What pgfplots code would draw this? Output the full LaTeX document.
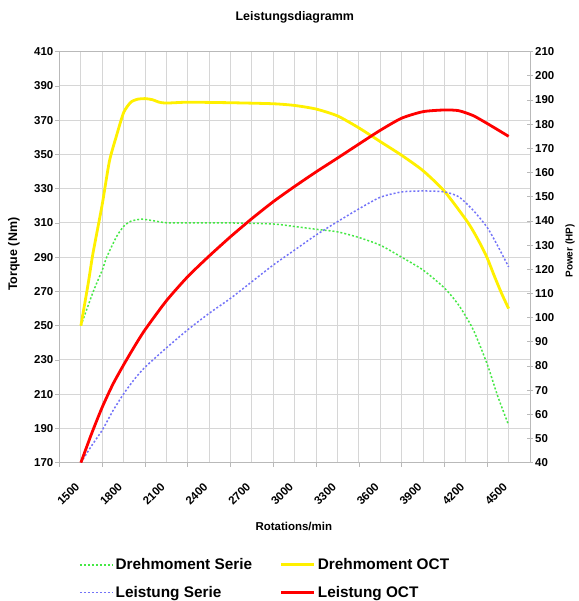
\documentclass[border=0pt]{standalone}
\usepackage{pgfplots}
\pgfplotsset{compat=1.18}
\usepackage{fontspec}
\setmainfont{Liberation Sans}
\definecolor{gridgray}{RGB}{214,214,214}
\definecolor{axisgray}{RGB}{185,185,185}
\definecolor{serieG}{RGB}{70,232,70}
\definecolor{serieB}{RGB}{115,115,248}
\definecolor{octY}{RGB}{255,240,0}
\definecolor{octR}{RGB}{255,0,0}

\pgfplotstableread{
rpm val
1650 250
1737 270
1800 282.5
1831 290
1900 302
1950 308
2000 311
2075 312.2
2150 311.4
2250 310.1
2400 310
2700 310
3000 309.4
3150 307.9
3300 306.3
3450 304.8
3600 301.5
3750 297
3900 290
4050 282.5
4200 272
4300 262
4400 248
4500 227.5
4575 208.5
4650 192
}\drehSerie

\pgfplotstableread{
rpm val
1650 250
1700 274
1730 290
1750 299
1800 321
1850 346
1900 361
1950 374.5
2000 380.5
2050 382.3
2100 382.6
2150 382
2200 380.5
2250 380
2400 380.5
2700 380.2
3000 379.6
3150 378.6
3300 376.5
3450 372.5
3600 365.5
3750 357.5
3900 349.5
4050 340.5
4200 328.5
4350 312
4400 305.5
4450 298
4500 289.5
4550 279
4600 269
4650 260
}\drehOCT

\pgfplotstableread{
rpm val
1650 40
1725 47
1800 53.5
1875 61.5
1950 68.5
2025 74.5
2100 79.5
2250 87.5
2400 95
2550 101.8
2700 108
2850 114.9
3000 121.8
3150 128
3300 134.2
3450 139.7
3600 145
3750 149.8
3900 152
4050 152.4
4200 152
4300 150
4400 144.5
4500 137.3
4575 129.5
4650 121
}\leistSerie

\pgfplotstableread{
rpm val
1650 40
1725 52
1800 63
1875 72.5
1950 80.5
2025 88
2100 95
2250 107
2400 117
2550 125.5
2700 133.5
2850 141
3000 148
3150 154.3
3300 160.3
3450 166
3600 171.8
3750 177.5
3900 182.5
4050 185.2
4200 185.9
4300 185.6
4400 183.6
4500 180.3
4650 175
}\leistOCT

\pgfplotsset{
  common/.style={
    scale only axis, width=470.5bp, height=411bp,
    xmin=1500, xmax=4800,
    /pgf/number format/assume math mode=true,
    /pgf/number format/1000 sep={},
    ticklabel style={font=\fontsize{11.5}{13}\selectfont\bfseries},
    label style={font=\fontsize{11.5}{13}\selectfont\bfseries},
    axis line style={axisgray, line width=1bp},
    tick style={axisgray, line width=0.8bp},
  },
}

\begin{document}
\begin{tikzpicture}
\begin{axis}[common, name=ax,
  ymin=170, ymax=410, ytick={170,190,...,410},
  xtick={1500,1800,...,4500}, minor xtick={1650,1950,...,4650},
  xmajorgrids, xminorgrids, ymajorgrids,
  major grid style={gridgray, line width=1bp},
  minor grid style={gridgray, line width=1bp},
  major tick length=4bp, minor tick length=0pt,
  tick align=outside, xtick pos=bottom, ytick pos=left,
  xticklabel style={xshift=18bp, yshift=-18bp, rotate=45, anchor=east, inner sep=0pt},
  yticklabel style={inner sep=2bp},
  title={Leistungsdiagramm},
  every axis title shift=0pt,
  title style={font=\fontsize{12.5}{14}\selectfont\bfseries, at={(axis description cs:0.5,1.0844)}, anchor=center},
  xlabel={Rotations/min},
  xlabel style={at={(axis description cs:0.498,-0.1557)}, anchor=center},
  ylabel={Torque (Nm)},
  ylabel style={font=\fontsize{12.5}{14}\selectfont\bfseries, at={(axis description cs:-0.0967,0.507)}, anchor=center},
]
\addplot[serieG, line width=1.5bp, dash pattern=on 2bp off 2bp, smooth, tension=0.4] table[x=rpm, y=val] {\drehSerie};
\addplot[octY, line width=2.8bp, smooth, tension=0.4] table[x=rpm, y=val] {\drehOCT};
\end{axis}
\begin{axis}[common, at={(ax.south west)}, anchor=south west,
  ymin=40, ymax=210, ytick={40,50,...,210},
  axis x line=none, axis y line*=right,
  tick align=center, major tick length=6bp,
  yticklabel style={inner sep=2bp},
  ylabel={Power (HP)},
  ylabel style={font=\fontsize{10}{12}\selectfont\bfseries, at={(axis description cs:1.085,0.515)}, anchor=center},
  legend columns=2,
  legend cell align=left,
  legend image code/.code={\draw[#1] (0bp,0bp) -- (33bp,0bp);},
  legend style={draw=none, fill=none, at={(axis description cs:0.035,-0.223)}, anchor=north west,
    font=\fontsize{15.4}{17}\selectfont\bfseries, row sep=11bp,
    nodes={inner sep=2bp},
    /tikz/every even column/.append style={column sep=26bp}},
]
\addlegendimage{serieG, line width=1.5bp, dash pattern=on 2bp off 2bp}
\addlegendentry{Drehmoment Serie}
\addlegendimage{octY, line width=2.8bp}
\addlegendentry{Drehmoment OCT}
\addplot[serieB, line width=1.5bp, dash pattern=on 2bp off 2bp, smooth, tension=0.4] table[x=rpm, y=val] {\leistSerie};
\addlegendentry{Leistung Serie}
\addplot[octR, line width=2.8bp, smooth, tension=0.4] table[x=rpm, y=val] {\leistOCT};
\addlegendentry{Leistung OCT}
\end{axis}
\pgfresetboundingbox
\path ([shift={(-59.5bp,-138.3bp)}]ax.south west) rectangle ([shift={(49bp,51.7bp)}]ax.north east);
\end{tikzpicture}
\end{document}
